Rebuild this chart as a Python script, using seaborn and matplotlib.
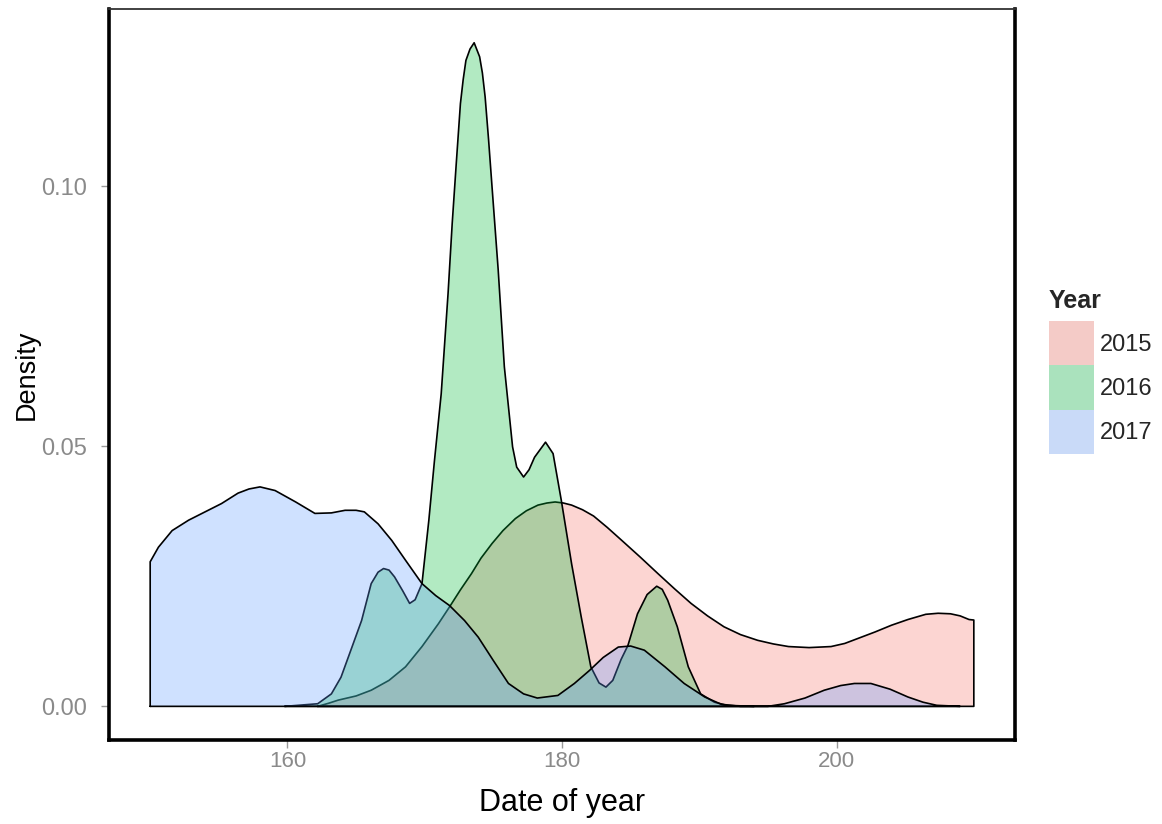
import numpy as np
import pandas as pd
import matplotlib
matplotlib.use("Agg")
import matplotlib.pyplot as plt
import seaborn as sns
from matplotlib.patches import Patch
from matplotlib.colors import to_rgba

# ---- data (day of year, density) ----
years = ["2015", "2016", "2017"]

day_2015 = [162.2, 163.0, 163.7, 165.0, 166.1, 167.4, 168.6, 169.8, 171.0, 171.8,
            172.6, 173.4, 174.1, 174.9, 175.7, 176.6, 177.4, 178.25, 178.9, 179.5,
            180.1, 180.7, 181.5, 182.3, 183.3, 184.4, 185.7, 187.0, 188.2, 189.4,
            190.6, 191.8, 193.0, 194.25, 195.4, 196.5, 198.0, 199.6, 200.6, 201.5,
            202.8, 204.0, 205.2, 206.5, 207.4, 208.3, 209.0, 209.65, 210.0]
dens_2015 = [0.0, 0.0006, 0.0012, 0.0020, 0.0031, 0.0050, 0.0076, 0.0115, 0.0159, 0.0191,
             0.0224, 0.0255, 0.0285, 0.0313, 0.0338, 0.0361, 0.0376, 0.0387, 0.0391, 0.0393,
             0.0391, 0.0387, 0.0378, 0.0366, 0.0344, 0.0318, 0.0287, 0.0255, 0.0226, 0.0198,
             0.0174, 0.0153, 0.0138, 0.0127, 0.0120, 0.0115, 0.0113, 0.0115, 0.0121, 0.0130,
             0.0143, 0.0156, 0.0167, 0.0177, 0.0179, 0.0178, 0.0174, 0.0167, 0.0166]

day_2016 = [159.8, 162.2, 163.2, 163.9, 164.7, 165.4, 166.1, 166.6, 167.0, 167.4,
            167.8, 168.4, 168.9, 169.3, 169.8, 170.3, 170.7, 171.2, 171.7, 172.0,
            172.3, 172.6, 172.8, 173.0, 173.3, 173.6, 174.0, 174.2, 174.4, 174.65,
            174.9, 175.35, 175.8, 176.4, 176.7, 177.2, 177.6, 178.0, 178.8, 179.35,
            179.95, 180.7, 181.4, 182.1, 182.7, 183.2, 183.7, 184.3, 184.8, 185.5,
            186.2, 186.9, 187.3, 187.7, 188.4, 189.2, 190.1, 191.1, 192.0, 194.0]
dens_2016 = [0.0, 0.0005, 0.0024, 0.0056, 0.0114, 0.0165, 0.0236, 0.0258, 0.0265, 0.0262,
             0.0249, 0.0222, 0.0198, 0.0205, 0.0236, 0.0358, 0.0470, 0.0601, 0.0794, 0.0928,
             0.1045, 0.1159, 0.1205, 0.1242, 0.1264, 0.1276, 0.1249, 0.1218, 0.1172, 0.1090,
             0.1000, 0.0840, 0.0653, 0.0499, 0.0460, 0.0441, 0.0455, 0.0479, 0.0508, 0.0486,
             0.0396, 0.0274, 0.0172, 0.0076, 0.0045, 0.0037, 0.0050, 0.0090, 0.0117, 0.0178,
             0.0215, 0.0231, 0.0225, 0.0204, 0.0153, 0.0076, 0.0024, 0.0008, 0.0002, 0.0]

day_2017 = [150.0, 150.6, 151.6, 152.8, 154.0, 155.2, 156.4, 157.2, 158.0, 159.1,
            160.6, 162.0, 163.2, 164.2, 165.0, 165.6, 166.6, 167.6, 168.6, 169.8,
            170.8, 171.8, 172.9, 173.9, 175.0, 176.1, 177.2, 178.2, 179.7, 180.9,
            182.0, 183.0, 184.1, 185.0, 186.0, 187.5, 188.9, 190.4, 191.6, 193.0,
            195.0, 196.2, 197.7, 199.1, 200.3, 201.3, 202.5, 203.9, 205.2, 206.3,
            207.3, 209.0]
dens_2017 = [0.0278, 0.0306, 0.0338, 0.0358, 0.0374, 0.0390, 0.0410, 0.0418, 0.0422, 0.0415,
             0.0393, 0.0371, 0.0372, 0.0377, 0.0377, 0.0374, 0.0351, 0.0319, 0.0281, 0.0236,
             0.0213, 0.0194, 0.0165, 0.0133, 0.0088, 0.0044, 0.0024, 0.0016, 0.0021, 0.0044,
             0.0069, 0.0094, 0.0114, 0.0116, 0.0108, 0.0076, 0.0044, 0.0018, 0.0004, 0.0,
             0.0, 0.0005, 0.0016, 0.0031, 0.0040, 0.0044, 0.0044, 0.0033, 0.0018, 0.0008,
             0.0002, 0.0]

x_ticks = [160, 180, 200]
y_ticks = [0.00, 0.05, 0.10]

fill_colors = {"2015": "#F8766D", "2016": "#00BA38", "2017": "#619CFF"}
key_colors = {"2015": "#F4CBC7", "2016": "#AAE2BD", "2017": "#C9DAF8"}

series = {"2015": (day_2015, dens_2015),
          "2016": (day_2016, dens_2016),
          "2017": (day_2017, dens_2017)}

# ---- style ----
sns.set_style("white")
plt.rcParams["font.family"] = ["Liberation Sans", "DejaVu Sans"]

fig = plt.figure(figsize=(11.62, 8.24), dpi=100)
ax = fig.add_axes([0.0938, 0.1025, 0.7797, 0.886])

for i, yr in enumerate(years):
    xs, ys = series[yr]
    ax.fill_between(xs, ys, 0, facecolor=to_rgba(fill_colors[yr], 0.3),
                    edgecolor="none", linewidth=0, zorder=2 + 2 * i)
    # closed outline of the density polygon (baseline + vertical ends)
    outline = pd.DataFrame({
        "day": [xs[0]] + list(xs) + [xs[-1], xs[0]],
        "density": [0.0] + list(ys) + [0.0, 0.0],
    })
    sns.lineplot(data=outline, x="day", y="density", sort=False, estimator=None,
                 color="black", linewidth=1.2, ax=ax, zorder=3 + 2 * i)

ax.set_xlim(147, 213)
ax.set_ylim(-0.00638, 0.1340)
ax.set_xticks(x_ticks)
ax.set_yticks(y_ticks)
ax.set_xticklabels([str(t) for t in x_ticks])
ax.set_yticklabels([f"{t:.2f}" for t in y_ticks])

ax.tick_params(axis="both", which="both", direction="out", length=6, width=1,
               color="#9a9a9a", labelcolor="#8a8a8a", labelsize=16,
               bottom=True, left=True)
ax.tick_params(axis="x", pad=2)
ax.tick_params(axis="y", pad=10, labelsize=17)

for side in ["left", "bottom", "right"]:
    ax.spines[side].set_linewidth(2.6)
    ax.spines[side].set_color("black")
ax.spines["top"].set_linewidth(1.3)
ax.spines["top"].set_color("#333333")

ax.set_xlabel("Date of year", fontsize=22, color="black", labelpad=12)
ax.set_ylabel("Density", fontsize=19.5, color="black", labelpad=1)

handles = [Patch(facecolor=key_colors[y], edgecolor="none", label=y) for y in years]
leg = ax.legend(handles=handles, title="Year", loc="upper left",
                bbox_to_anchor=(1049 / 1162, 1 - 289 / 824),
                bbox_transform=fig.transFigure, frameon=False,
                fontsize=17, title_fontproperties={"weight": "bold", "size": 18},
                handlelength=1.9, handleheight=2.5, labelspacing=0.0,
                handletextpad=0.25, borderpad=0.0, borderaxespad=0.0,
                alignment="left")
leg._legend_box.sep = 6  # gap between title and keys

fig.savefig("out.png", dpi=100)
